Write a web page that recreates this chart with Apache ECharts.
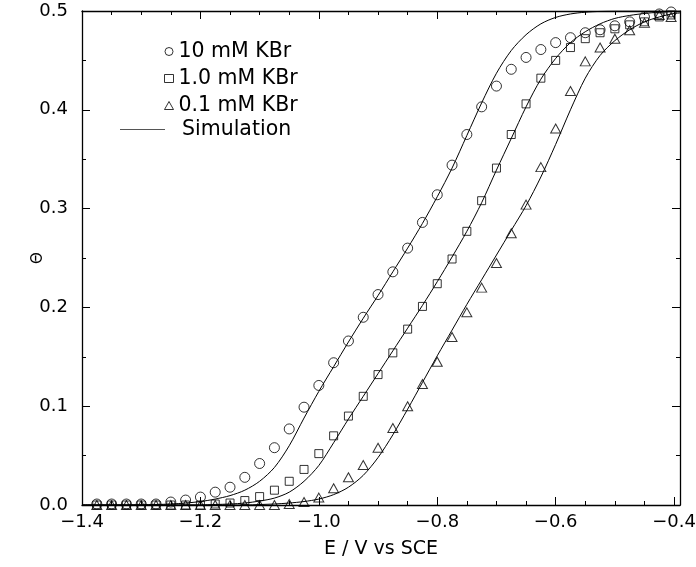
<!DOCTYPE html>
<html>
<head>
<meta charset="utf-8">
<script src="https://cdn.jsdelivr.net/npm/echarts@6/dist/echarts.min.js"></script>
<style>
  html, body { margin: 0; padding: 0; background: #fff; }
  #chart { width: 696px; height: 567px; }
</style>
</head>
<body>
<div id="chart"></div>
<script>
// Measured coverage vs electrode potential (V vs SCE)
const potentials = [-1.375, -1.35, -1.325, -1.3, -1.275, -1.25, -1.225, -1.2, -1.175, -1.15,
  -1.125, -1.1, -1.075, -1.05, -1.025, -1.0, -0.975, -0.95, -0.925, -0.9,
  -0.875, -0.85, -0.825, -0.8, -0.775, -0.75, -0.725, -0.7, -0.675, -0.65,
  -0.625, -0.6, -0.575, -0.55, -0.525, -0.5, -0.475, -0.45, -0.425, -0.405];

const theta10mM = [0.001, 0.001, 0.001, 0.001, 0.001, 0.003, 0.005, 0.008, 0.013, 0.018,
  0.028, 0.042, 0.058, 0.077, 0.099, 0.121, 0.144, 0.166, 0.190, 0.213,
  0.236, 0.260, 0.286, 0.314, 0.344, 0.375, 0.403, 0.424, 0.441, 0.453,
  0.461, 0.468, 0.473, 0.478, 0.481, 0.485, 0.489, 0.494, 0.497, 0.499];

const theta1mM = [0, 0, 0, 0, 0, 0, 0, 0, 0.001, 0.002,
  0.0045, 0.0085, 0.015, 0.024, 0.036, 0.052, 0.070, 0.090, 0.110, 0.132,
  0.154, 0.178, 0.201, 0.224, 0.249, 0.277, 0.308, 0.341, 0.375, 0.406,
  0.432, 0.450, 0.463, 0.472, 0.478, 0.482, 0.486, 0.489, 0.494, 0.496];

const theta01mM = [0, 0, 0, 0, 0, 0, 0, 0, 0, 0,
  0, 0, 0, 0.001, 0.003, 0.0075, 0.017, 0.028, 0.0405, 0.058,
  0.078, 0.100, 0.1225, 0.145, 0.170, 0.195, 0.220, 0.245, 0.275, 0.304,
  0.342, 0.381, 0.419, 0.449, 0.463, 0.472, 0.4805, 0.488, 0.496, 0.494];

// Simulated isotherms
const simPotentials = [-1.4, -1.375, -1.35, -1.325, -1.3, -1.275, -1.25, -1.225, -1.2, -1.175,
  -1.15, -1.125, -1.1, -1.075, -1.05, -1.025, -1.0, -0.975, -0.95, -0.925,
  -0.9, -0.875, -0.85, -0.825, -0.8, -0.775, -0.75, -0.725, -0.7, -0.675,
  -0.65, -0.625, -0.6, -0.575, -0.55, -0.525, -0.5, -0.475, -0.45, -0.425,
  -0.4, -0.39];

const sim10mM = [0, 0, 0, 0, 0.0002, 0.0005, 0.001, 0.002, 0.0035, 0.006,
  0.0095, 0.015, 0.024, 0.038, 0.060, 0.088, 0.115, 0.140, 0.165, 0.189,
  0.212, 0.236, 0.260, 0.285, 0.312, 0.341, 0.374, 0.407, 0.437, 0.460,
  0.476, 0.487, 0.4935, 0.497, 0.4988, 0.4996, 0.5, 0.5, 0.5, 0.5,
  0.5, 0.5];

const sim1mM = [0, 0, 0, 0, 0, 0, 0, 0, 0, 0.0005,
  0.001, 0.002, 0.004, 0.007, 0.013, 0.024, 0.040, 0.063, 0.087, 0.110,
  0.133, 0.156, 0.179, 0.202, 0.226, 0.251, 0.277, 0.306, 0.339, 0.371,
  0.403, 0.431, 0.452, 0.468, 0.479, 0.487, 0.4925, 0.4955, 0.4975, 0.4988,
  0.4995, 0.4997];

const sim01mM = [0, 0, 0, 0, 0, 0, 0, 0, 0, 0,
  0, 0, 0.0005, 0.001, 0.002, 0.0035, 0.006, 0.0105, 0.018, 0.030,
  0.048, 0.071, 0.097, 0.124, 0.151, 0.177, 0.203, 0.228, 0.253, 0.278,
  0.303, 0.332, 0.365, 0.400, 0.432, 0.455, 0.470, 0.481, 0.489, 0.494,
  0.4975, 0.498];

// Tick positions
const xMajorTicks = [-1.4, -1.2, -1.0, -0.8, -0.6, -0.4];
const xMinorTicks = [-1.35, -1.3, -1.25, -1.15, -1.1, -1.05, -0.95, -0.9, -0.85,
  -0.75, -0.7, -0.65, -0.55, -0.5, -0.45];
const yMajorTicks = [0, 0.1, 0.2, 0.3, 0.4, 0.5];
const yMinorTicks = [0.05, 0.15, 0.25, 0.35, 0.45];

const seriesNames = ['10 mM KBr', '1.0 mM KBr', '0.1 mM KBr'];
const simName = 'Simulation';

const FONT = 'DejaVu Sans';
const X_MIN = -1.4, X_MAX = -0.39, Y_MIN = 0, Y_MAX = 0.5;

const zip = (xs, ys) => xs.map((x, i) => [x, ys[i]]);
const fmtX = v => (v < 0 ? '\u2212' : '') + Math.abs(v).toFixed(1);
const fmtY = v => v.toFixed(1);

function xAxisDef(position, ticks, len, withLine, withLabels) {
  return {
    type: 'value', position: position, min: X_MIN, max: X_MAX,
    axisLine: { show: withLine, onZero: false, lineStyle: { color: '#000', width: 1.3 } },
    axisTick: { show: true, inside: true, length: len, customValues: ticks,
                lineStyle: { color: '#000', width: 1 } },
    axisLabel: withLabels ? {
      show: true, customValues: ticks, formatter: fmtX, margin: 8,
      color: '#000', fontFamily: FONT, fontSize: 18
    } : { show: false },
    splitLine: { show: false }
  };
}

function yAxisDef(position, ticks, len, withLine, withLabels) {
  return {
    type: 'value', position: position, min: Y_MIN, max: Y_MAX,
    axisLine: { show: withLine, onZero: false, lineStyle: { color: '#000', width: 1.3 } },
    axisTick: { show: true, inside: true, length: len, customValues: ticks,
                lineStyle: { color: '#000', width: 1 } },
    axisLabel: withLabels ? {
      show: true, customValues: ticks, formatter: fmtY, margin: 14,
      color: '#000', fontFamily: FONT, fontSize: 18
    } : { show: false },
    splitLine: { show: false }
  };
}

const xBottom = xAxisDef('bottom', xMajorTicks, 8, true, true);
xBottom.name = 'E / V vs SCE';
xBottom.nameLocation = 'middle';
xBottom.nameGap = 35;
xBottom.nameMoveOverlap = false;
xBottom.nameTextStyle = { color: '#000', fontFamily: FONT, fontSize: 19 };

const yLeft = yAxisDef('left', yMajorTicks, 8, true, true);
yLeft.name = '\u0398';
yLeft.nameLocation = 'middle';
yLeft.nameRotate = 90;
yLeft.nameGap = 36;
yLeft.nameMoveOverlap = false;
yLeft.nameTextStyle = { color: '#000', fontFamily: FONT, fontSize: 15 };

const markerStyle = { color: 'rgba(0,0,0,0)', borderColor: '#000', borderWidth: 1 };

function measured(name, symbol, size, values) {
  return {
    type: 'scatter', name: name, symbol: symbol, symbolSize: size,
    data: zip(potentials, values), itemStyle: markerStyle, z: 3,
    emphasis: { disabled: true }
  };
}

function simulated(values) {
  return {
    type: 'line', name: simName, data: zip(simPotentials, values),
    showSymbol: false, symbol: 'none', smooth: 0.3,
    lineStyle: { color: '#000', width: 1 }, z: 2,
    emphasis: { disabled: true }
  };
}

const chart = echarts.init(document.getElementById('chart'), null, { renderer: 'canvas' });
chart.setOption({
  animation: false,
  backgroundColor: '#fff',
  grid: { left: 82, right: 16, top: 11, bottom: 62, outerBoundsMode: 'none' },
  xAxis: [
    xBottom,
    xAxisDef('bottom', xMinorTicks, 4, false, false),
    xAxisDef('top', xMajorTicks, 8, true, false),
    xAxisDef('top', xMinorTicks, 4, false, false)
  ],
  yAxis: [
    yLeft,
    yAxisDef('left', yMinorTicks, 4, false, false),
    yAxisDef('right', yMajorTicks, 8, true, false),
    yAxisDef('right', yMinorTicks, 4, false, false)
  ],
  legend: [
    {
      orient: 'vertical', left: 159, top: 36, itemWidth: 9, itemHeight: 8, itemGap: 6,
      data: seriesNames, selectedMode: false,
      itemStyle: { color: 'rgba(0,0,0,0)', borderColor: '#000', borderWidth: 1 },
      textStyle: { color: '#000', fontFamily: FONT, fontSize: 20.5 }
    },
    {
      orient: 'vertical', left: 115, top: 114, itemWidth: 45, itemHeight: 1,
      symbolKeepAspect: false, selectedMode: false,
      data: [{ name: simName, icon: 'rect' }],
      itemStyle: { color: '#555', borderWidth: 0 },
      textStyle: { color: '#000', fontFamily: FONT, fontSize: 20.5, padding: [0, 0, 0, 12] }
    }
  ],
  series: [
    measured(seriesNames[0], 'circle', 10, theta10mM),
    measured(seriesNames[1], 'rect', 8, theta1mM),
    measured(seriesNames[2], 'triangle', [10, 9], theta01mM),
    simulated(sim10mM),
    simulated(sim1mM),
    simulated(sim01mM)
  ]
});
</script>
</body>
</html>
